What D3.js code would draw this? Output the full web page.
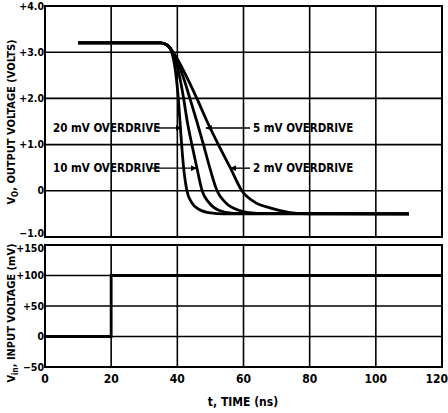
<!DOCTYPE html>
<html>
<head>
<meta charset="utf-8">
<script src="https://cdn.jsdelivr.net/npm/d3@7"></script>
<style>
  body { margin:0; background:#fff; }
  text { font-family: "DejaVu Sans", sans-serif; font-stretch: condensed; font-weight:bold; fill:#000; }
</style>
</head>
<body>
<div id="chart"></div>
<script>
// output voltage curves (time ns, volts)
const od20T = [10, 35, 37, 38.5, 39.6, 40.3, 40.8, 41.3, 41.9, 42.9, 44.3, 46.5, 50, 54, 110]
const od20V = [3.2, 3.2, 3.15, 2.95, 2.5, 2.0, 1.5, 1.0, 0.5, 0, -0.25, -0.4, -0.48, -0.5, -0.5]
const od10T = [10, 35, 37, 38.8, 40.6, 41.9, 43.0, 44.4, 45.9, 47.5, 49.5, 52.5, 57, 110]
const od10V = [3.2, 3.2, 3.15, 2.95, 2.5, 2.0, 1.5, 1.0, 0.5, 0, -0.25, -0.42, -0.49, -0.5]
const od5T  = [10, 35, 37, 39, 41.6, 43.8, 45.9, 47.9, 49.8, 52.0, 54.5, 58.5, 64, 110]
const od5V  = [3.2, 3.2, 3.15, 2.95, 2.5, 2.0, 1.5, 1.0, 0.5, 0, -0.25, -0.42, -0.49, -0.5]
const od2T  = [10, 35, 37, 39.2, 42.6, 45.9, 49.0, 52.4, 56, 59.5, 63.5, 68, 74, 80, 110]
const od2V  = [3.2, 3.2, 3.15, 2.95, 2.5, 2.0, 1.5, 1.0, 0.5, 0, -0.25, -0.37, -0.47, -0.5, -0.5]
// input step (time ns, mV)
const inT = [0, 20, 20, 120]
const inV = [0, 0, 100, 100]

const xTicks = [0, 20, 40, 60, 80, 100, 120]
const topTicks = [-1, 0, 1, 2, 3, 4]
const topLabels = ["\u22121.0", "0", "+1.0", "+2.0", "+3.0", "+4.0"]
const botTicks = [-50, 0, 50, 100, 150]
const botLabels = ["\u221250", "0", "+50", "+100", "+150"]

const W = 448, H = 413
const left = 45, right = 442

const svg = d3.select("#chart").append("svg")
  .attr("width", W).attr("height", H)

const x = d3.scaleLinear().domain([0, 120]).range([left, right])
const yTop = d3.scaleLinear().domain([-1, 4]).range([237, 6])
const yBot = d3.scaleLinear().domain([-50, 150]).range([367, 245])

function panel(y, ticks, labels, nudge) {
  const g = svg.append("g")
  const [y0, y1] = y.range()
  // horizontal grid
  g.selectAll(null).data(ticks).enter().append("line")
    .attr("x1", left).attr("x2", right)
    .attr("y1", d => y(d)).attr("y2", d => y(d))
    .attr("stroke", "#000").attr("stroke-width", 1.6)
  // vertical grid
  g.selectAll(null).data(xTicks).enter().append("line")
    .attr("x1", d => x(d)).attr("x2", d => x(d))
    .attr("y1", y0).attr("y2", y1)
    .attr("stroke", "#000").attr("stroke-width", 1.6)
  g.append("rect")
    .attr("x", left).attr("y", y1)
    .attr("width", right - left).attr("height", y0 - y1)
    .attr("fill", "none").attr("stroke", "#000").attr("stroke-width", 2)
  g.selectAll(null).data(ticks).enter().append("text")
    .attr("x", left - 1).attr("y", d => y(d) + (nudge[d] || 0))
    .attr("dy", "0.35em").attr("text-anchor", "end")
    .style("font-size", "10.5px")
    .text((d, i) => labels[i])
}
panel(yTop, topTicks, topLabels, {"-1": -4})
panel(yBot, botTicks, botLabels, {"150": 3})

svg.selectAll(null).data(xTicks).enter().append("text")
  .attr("x", d => d == 120 ? 448 : x(d)).attr("y", 383)
  .attr("text-anchor", d => d == 120 ? "end" : "middle")
  .style("font-size", "12px")
  .text(d => d)

svg.append("text")
  .attr("x", 243).attr("y", 406)
  .attr("text-anchor", "middle")
  .style("font-size", "12px")
  .text("t, TIME (ns)")

// y titles
const t1 = svg.append("text")
  .attr("transform", "translate(15,122) rotate(-90)")
  .attr("text-anchor", "middle")
  .style("font-size", "11px")
t1.append("tspan").text("V")
t1.append("tspan").attr("dy", 3).style("font-size", "8px").text("O")
t1.append("tspan").attr("dy", -3).text(", OUTPUT VOLTAGE (VOLTS)")

const t2 = svg.append("text")
  .attr("transform", "translate(15,313) rotate(-90)")
  .attr("text-anchor", "middle")
  .style("font-size", "11px")
t2.append("tspan").text("V")
t2.append("tspan").attr("dy", 3).style("font-size", "8px").text("in")
t2.append("tspan").attr("dy", -3).text(", INPUT VOLTAGE (mV)")

// data lines
const lineTop = d3.line().x(d => x(d[0])).y(d => yTop(d[1])).curve(d3.curveMonotoneX)
const series = [[od20T, od20V], [od10T, od10V], [od5T, od5V], [od2T, od2V]]
series.forEach(([ts, vs]) => {
  svg.append("path")
    .datum(ts.map((t, i) => [t, vs[i]]))
    .attr("d", lineTop)
    .attr("fill", "none").attr("stroke", "#000").attr("stroke-width", 2.8)
})

const lineBot = d3.line().x(d => x(d[0])).y(d => yBot(d[1]))
svg.append("path")
  .datum(inT.map((t, i) => [t, inV[i]]))
  .attr("d", lineBot)
  .attr("fill", "none").attr("stroke", "#000").attr("stroke-width", 2.8)

// annotations
svg.append("defs").append("marker")
  .attr("id", "arr")
  .attr("refX", 6).attr("refY", 3)
  .attr("markerWidth", 7).attr("markerHeight", 6)
  .attr("markerUnits", "userSpaceOnUse")
  .attr("orient", "auto")
  .append("path").attr("d", "M0 0 6 3 0 6Z").attr("fill", "#000")

const notes = [
  {label: "20 mV OVERDRIVE", tx: 53, y: 1.36, a: 157, b: 41.3},
  {label: "10 mV OVERDRIVE", tx: 53, y: 0.49, a: 150, b: 45.9},
  {label: "5 mV OVERDRIVE", tx: 253, y: 1.36, a: 250, b: 48.6},
  {label: "2 mV OVERDRIVE", tx: 253, y: 0.49, a: 250, b: 56}
]
notes.forEach(n => {
  svg.append("text")
    .attr("x", n.tx).attr("y", yTop(n.y)).attr("dy", "0.35em")
    .style("font-size", "11.5px")
    .text(n.label)
  svg.append("line")
    .attr("x1", n.a).attr("x2", x(n.b))
    .attr("y1", yTop(n.y)).attr("y2", yTop(n.y))
    .attr("stroke", "#000").attr("stroke-width", 1.4)
    .attr("marker-end", "url(#arr)")
})
</script>
</body>
</html>
